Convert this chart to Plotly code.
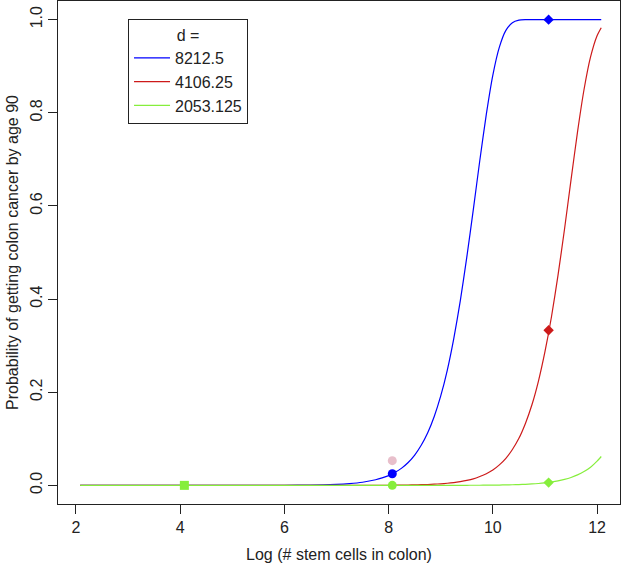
import plotly.graph_objects as go

# Log (# stem cells) grid and probabilities
x_vals = [2.08, 3.0, 4.0, 5.0, 5.5, 6.0, 6.5, 7.0, 7.25, 7.5, 7.75, 7.875,
          8.0, 8.125, 8.25, 8.375, 8.5, 8.625, 8.75, 8.875,
          9.0, 9.125, 9.25, 9.375, 9.5, 9.625, 9.75, 9.875,
          10.0, 10.125, 10.25, 10.375, 10.5, 10.625, 10.75, 10.875,
          11.0, 11.125, 11.25, 11.375, 11.5, 11.625, 11.75, 11.875,
          12.0, 12.08]

p_8212 = [0.0, 0.0, 0.0, 0.0, 0.0001, 0.0002, 0.0007, 0.0021, 0.0038, 0.0067, 0.012, 0.016,
          0.021, 0.028, 0.037, 0.049, 0.065, 0.086, 0.113, 0.148,
          0.192, 0.247, 0.315, 0.396, 0.49, 0.592, 0.698, 0.797,
          0.881, 0.941, 0.977, 0.9935, 0.9988, 0.9999, 1.0, 1.0,
          1.0, 1.0, 1.0, 1.0, 1.0, 1.0, 1.0, 1.0,
          1.0, 1.0]
p_4106 = [0.0, 0.0, 0.0, 0.0, 0.0, 0.0, 0.0, 0.0, 0.0001, 0.0001, 0.0002, 0.0002,
          0.0003, 0.0004, 0.0006, 0.0008, 0.0011, 0.0014, 0.0019, 0.0026,
          0.0034, 0.0045, 0.006, 0.008, 0.0106, 0.014, 0.019, 0.025,
          0.033, 0.044, 0.058, 0.077, 0.101, 0.133, 0.173, 0.224,
          0.287, 0.362, 0.451, 0.55, 0.656, 0.759, 0.85, 0.92,
          0.9655, 0.9826]
p_2053 = [0.0, 0.0, 0.0, 0.0, 0.0, 0.0, 0.0, 0.0, 0.0, 0.0, 0.0, 0.0,
          0.0, 0.0, 0.0, 0.0, 0.0, 0.0, 0.0, 0.0,
          0.0001, 0.0001, 0.0001, 0.0002, 0.0002, 0.0003, 0.0003, 0.0004,
          0.0005, 0.0007, 0.001, 0.0013, 0.0017, 0.0023, 0.003, 0.004,
          0.0054, 0.0072, 0.0096, 0.0128, 0.017, 0.0225, 0.0297, 0.039,
          0.052, 0.062]

series_names = ["8212.5", "4106.25", "2053.125"]
series_colors = ["#0000FF", "#CD1A1A", "#86EE3C"]

# highlighted points
dot_x = [8.07, 8.07, 8.07]
dot_y = [0.053, 0.025, 0.0]
dot_colors = ["#E8BFCB", "#0000FF", "#86EE3C"]
square_x = [4.08]
square_y = [0.0]
diamond_x = [11.07, 11.07, 11.07]
diamond_y = [1.0, 0.333, 0.006]
diamond_colors = ["#0000FF", "#CD1A1A", "#86EE3C"]

fig = go.Figure()
for name, ys, col in zip(series_names, [p_8212, p_4106, p_2053], series_colors):
    fig.add_trace(go.Scatter(x=x_vals, y=ys, mode="lines", name=name,
                             line=dict(color=col, width=1.2, shape="spline", smoothing=0.6)))

fig.add_trace(go.Scatter(x=dot_x, y=dot_y, mode="markers", showlegend=False,
                         marker=dict(color=dot_colors, size=9, symbol="circle")))
fig.add_trace(go.Scatter(x=square_x, y=square_y, mode="markers", showlegend=False,
                         marker=dict(color="#86EE3C", size=9, symbol="square")))
fig.add_trace(go.Scatter(x=diamond_x, y=diamond_y, mode="markers", showlegend=False,
                         marker=dict(color=diamond_colors, size=8, symbol="diamond")))

font = dict(family="Liberation Sans, Arial, sans-serif", size=16, color="#222")
fig.update_layout(
    width=622, height=564,
    margin=dict(l=58, r=2, t=1, b=60, autoexpand=False),
    paper_bgcolor="white", plot_bgcolor="white",
    font=font,
    legend=dict(x=0.1246, y=0.964, xanchor="left", yanchor="top",
                bordercolor="#222", borderwidth=1, bgcolor="white",
                title=dict(text="d =", side="top center", font=font),
                font=font, itemwidth=36, tracegroupgap=0),
)
fig.update_xaxes(range=[1.655, 12.44], tickvals=[2, 4, 6, 8, 10, 12], automargin=False,
                 ticks="outside", ticklen=9, tickcolor="#222", showgrid=False,
                 zeroline=False, showline=True, linecolor="#222", linewidth=1, mirror=True,
                 title=dict(text="Log (# stem cells in colon)", standoff=13, font=font))
fig.update_yaxes(range=[-0.04, 1.04], tickvals=[0, 0.2, 0.4, 0.6, 0.8, 1.0], automargin=False,
                 ticktext=["0.0", "0.2", "0.4", "0.6", "0.8", "1.0"], tickangle=-90,
                 ticks="outside", ticklen=9, tickcolor="#222", showgrid=False,
                 zeroline=False, showline=True, linecolor="#222", linewidth=1, mirror=True,
                 title=dict(text="Probability of getting colon cancer by age 90", standoff=4,
                            font=font))
fig.write_html("out.html", config={"displayModeBar": False},
               post_script="document.body.style.margin='0px';")
